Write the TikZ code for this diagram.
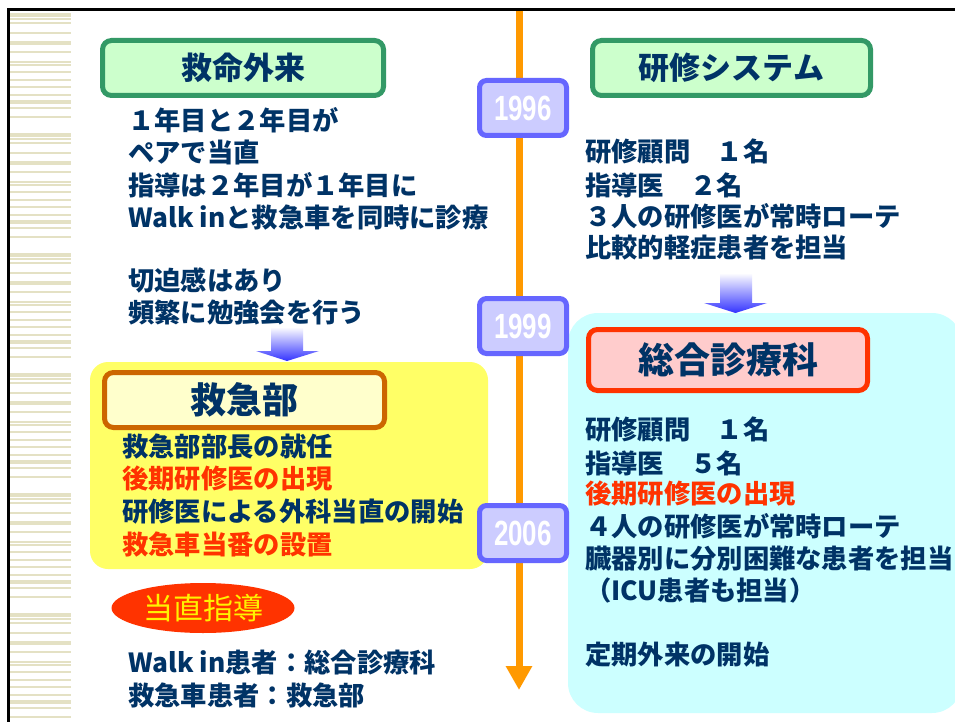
\documentclass[tikz,border=0pt]{standalone}
\usepackage{fontspec}
\usepackage{graphicx}
\newfontfamily\jp{Noto Sans CJK JP}
\newfontfamily\numfont{Liberation Sans}
\usetikzlibrary{arrows.meta,shapes.geometric}
\definecolor{navy}{HTML}{003366}
\definecolor{redtxt}{HTML}{FF3300}
\definecolor{stripe}{HTML}{E4E1C4}
\definecolor{tline}{HTML}{FF9900}
\definecolor{yrfill}{HTML}{CCCCFF}
\definecolor{yrdraw}{HTML}{6666FF}
\definecolor{grfill}{HTML}{CCFFCC}
\definecolor{grdraw}{HTML}{339966}
\definecolor{yelbox}{HTML}{FFFF66}
\definecolor{lightyel}{HTML}{FFFFCC}
\definecolor{brown}{HTML}{CC6600}
\definecolor{cyanbox}{HTML}{CCFFFF}
\definecolor{pinkfill}{HTML}{FFCCCC}
\definecolor{arrblue}{HTML}{3333FF}
\tikzset{
  txt/.style={anchor=west, inner sep=0pt, text=navy, font=\jp\bfseries\fontsize{26.3}{26.3}\selectfont},
  redline/.style={txt, text=redtxt},
  headbox/.style={rectangle, rounded corners=9pt, line width=5pt, text=navy, font=\jp\bfseries\fontsize{31}{31}\selectfont, inner sep=0pt},
  greenbox/.style={headbox, fill=grfill, draw=grdraw},
  yearbox/.style={rectangle, rounded corners=7pt, line width=5pt, fill=yrfill, draw=yrdraw, minimum width=87pt, minimum height=55pt, inner sep=0pt, text=white, font=\numfont\fontsize{35}{35}\selectfont},
  shadearrow/.style={top color=white, bottom color=arrblue, draw=none},
}
\begin{document}
\begin{tikzpicture}[x=1pt,y=-1pt]
\useasboundingbox (0,0) rectangle (955,722);
\fill[white] (0,0) rectangle (955,722);
% stripes
\foreach \yb in {0,120,240,360,480,600}{
  \foreach \yy/\hh in {15/4,19/1.5,23/1.5,33/1.5,43/4,52/2,62/2,65/1.5,72/2,80/1.5,87/2,95/2,102/4,108/2,117/2}{
    \fill[stripe] (10,\yb+\yy-\hh/2) rectangle (71,\yb+\yy+\hh/2);
  }
}
% frame
\draw[line width=3pt,black] (8,722) -- (8,10) -- (955,10);
% cyan and yellow boxes
\fill[cyanbox, rounded corners=30pt] (568,313) rectangle (962,713);
\fill[yelbox, rounded corners=18pt] (90,362) rectangle (488,569);
% timeline
\coordinate (ttop) at (519,11);
\coordinate (tbot) at (519,690);
\draw[tline, line width=7pt, -{Triangle[width=25pt,length=24pt]}] (ttop) -- (tbot);
% year badges
\node[yearbox] (y1996) at (523,108) {\scalebox{0.74}[1]{\bfseries 1996}};
\node[yearbox] (y1999) at (523,326) {\scalebox{0.74}[1]{\bfseries 1999}};
\node[yearbox] (y2006) at (523,533) {\scalebox{0.74}[1]{\bfseries 2006}};
% header boxes
\node[greenbox, minimum width=281pt, minimum height=55pt] (kyumei) at (243,68) {救命外来};
\node[greenbox, minimum width=278pt, minimum height=55pt] (kenshu) at (731.5,68) {研修システム};
\node[headbox, fill=lightyel, draw=brown, minimum width=280pt, minimum height=55pt, font=\jp\bfseries\fontsize{36}{36}\selectfont] (kyukyu) at (244.5,400) {救急部};
\node[headbox, fill=pinkfill, draw=redtxt, minimum width=279pt, minimum height=61pt, font=\jp\bfseries\fontsize{36}{36}\selectfont] (sogo) at (728,360) {総合診療科};
% shaded arrows
\shade[shadearrow] (271,327) -- (303,327) -- (303,351) -- (319,351) -- (287,361) -- (256,351) -- (271,351) -- cycle;
\shade[shadearrow] (720,273) -- (752,273) -- (752,303) -- (767,303) -- (735.5,313) -- (704,303) -- (720,303) -- cycle;
% left top text
\node[txt] (l1) at (128,120) {１年目と２年目が};
\node[txt] (l2) at (128,152) {ペアで当直};
\node[txt] (l3) at (128,185) {指導は２年目が１年目に};
\node[txt] (l4) at (128,218) {Walk inと救急車を同時に診療};
\node[txt] (l5) at (128,280) {切迫感はあり};
\node[txt] (l6) at (128,313) {頻繁に勉強会を行う};
% right top text
\node[txt] (r1) at (585,152) {研修顧問　１名};
\node[txt] (r2) at (585,185) {指導医　２名};
\node[txt] (r3) at (585,216) {３人の研修医が常時ローテ};
\node[txt] (r4) at (585,248) {比較的軽症患者を担当};
% yellow box text
\node[txt] (k1) at (122,447) {救急部部長の就任};
\node[redline] (k2) at (122,479) {後期研修医の出現};
\node[txt] (k3) at (122,512) {研修医による外科当直の開始};
\node[redline] (k4) at (122,545) {救急車当番の設置};
% ellipse
\node[ellipse, fill=redtxt, minimum width=183pt, minimum height=50pt, inner sep=0pt, text=yellow, font=\jp\fontsize{30}{30}\selectfont] (tochoku) at (203,608) {当直指導};
\node[txt] (b1) at (128,663) {Walk in患者：総合診療科};
\node[txt] (b2) at (128,696) {救急車患者：救急部};
% cyan box text
\node[txt] (s1) at (585,430) {研修顧問　１名};
\node[txt] (s2) at (585,463) {指導医　５名};
\node[redline] (s3) at (585,494) {後期研修医の出現};
\node[txt] (s4) at (585,526) {４人の研修医が常時ローテ};
\node[txt] (s5) at (585,559) {臓器別に分別困難な患者を担当};
\node[txt] (s6) at (585,591) {（ICU患者も担当）};
\node[txt] (s7) at (585,655) {定期外来の開始};
\end{tikzpicture}
\end{document}
